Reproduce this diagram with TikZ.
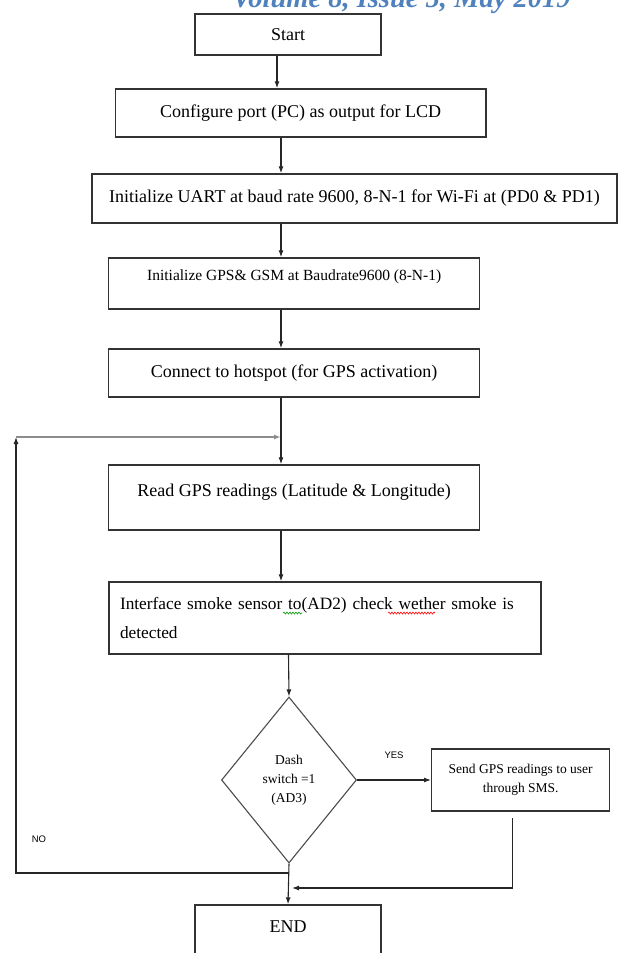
\documentclass[tikz,border=0pt]{standalone}
\usepackage{fontspec}
\setmainfont{Liberation Serif}
\newfontfamily\sansf{Liberation Sans}
\usetikzlibrary{shapes.geometric,arrows.meta,decorations.pathmorphing}
\definecolor{volblue}{HTML}{4F81BD}

\begin{document}
\begin{tikzpicture}[>={Latex[length=7pt,width=5pt]}, x=1pt, y=-1pt,
  blk/.style={draw=black!80, line width=1.4pt, inner sep=0pt, font=\fontsize{18}{22}\selectfont},
  dec/.style={diamond, draw=black!70, line width=1.1pt, inner sep=0pt, align=center, font=\fontsize{13.5}{19}\selectfont},
  flow/.style={->, line width=1.1pt, draw=black!85},
  lbl/.style={font=\sansf\fontsize{9.5}{11}\selectfont},
  squig/.style={line width=0.6pt, decorate, decoration={snake, amplitude=1pt, segment length=3pt}}]
\useasboundingbox (0,0) rectangle (618,953);

\node[anchor=base, text=volblue, font=\bfseries\itshape\fontsize{28.5}{30}\selectfont] (vol) at (401.5,8) {Volume 8, Issue 5, May 2019};

\node[blk, minimum width=186pt, minimum height=41pt] (start) at (288,34.5) {Start};
\node[blk, minimum width=370.5pt, minimum height=48pt] (config) at (300.7,113) {Configure port (PC) as output for LCD};
\node[blk, minimum width=525pt, minimum height=49pt] (uart) at (354.5,198.5) {Initialize UART at baud rate 9600, 8-N-1 for Wi-Fi at (PD0 \& PD1)};
\node[blk, minimum width=371pt, minimum height=51pt, font=\fontsize{15.5}{19}\selectfont, text depth=17.7pt] (gsm) at (294.2,283.5) {Initialize GPS\& GSM at Baudrate9600 (8-N-1)};
\node[blk, minimum width=371pt, minimum height=48pt] (hotspot) at (294.2,373) {Connect to hotspot (for GPS activation)};
\node[blk, minimum width=371pt, minimum height=65pt, text depth=15.4pt] (read) at (294.2,497.5) {Read GPS readings (Latitude \& Longitude)};
\node[blk, minimum width=432pt, minimum height=72pt, text width=410pt, align=left, font=\fontsize{17.3}{29}\selectfont] (smoke) at (325,618) {Interface smoke sensor to(AD2) check wether smoke is\\detected};
\node[dec, minimum width=135pt, minimum height=166pt] (dash) at (289,780) {Dash\\switch =1\\(AD3)};
\node[blk, minimum width=178pt, minimum height=62pt, align=center, font=\fontsize{13.5}{19}\selectfont] (sms) at (520.7,780) {Send GPS readings to user\\through SMS.};
\node[blk, minimum width=186pt, minimum height=60pt, text depth=16.5pt] (finish) at (288,935) {END};

\draw[squig, green!60!black] (283,613) -- (302,613);
\draw[squig, red] (388,613) -- (435,613);

\coordinate (c1) at (277,0);
\coordinate (c2) at (281,0);
\coordinate (c3) at (288.5,0);
\coordinate (nj) at (288.5,873);
\coordinate (nc) at (16,873);
\coordinate (lc) at (16,437);
\coordinate (mj) at (281,437);
\coordinate (r1) at (512.4,818);
\coordinate (r2) at (512.4,888);
\coordinate (r3) at (292,888);

\draw[flow] (start.south -| c1) -- (config.north -| c1);
\draw[flow] (config.south -| c2) -- (uart.north -| c2);
\draw[flow] (uart.south -| c2) -- (gsm.north -| c2);
\draw[flow] (gsm.south -| c2) -- (hotspot.north -| c2);
\draw[flow] (hotspot.south -| c2) -- (read.north -| c2);
\draw[flow] (read.south -| c2) -- (smoke.north -| c2);
\draw[flow] (smoke.south -| c3) -- (dash.north);
\draw[flow] (dash.east) -- node[lbl, midway, yshift=25pt]{YES} (sms.west);
\draw[flow] (dash.south) -- (finish.north);
\draw[flow] (nj) -- (nc) -- (lc);
\draw[->, line width=2.2pt, draw=black!45] (lc) -- (mj);
\node[lbl] (no) at (39,839) {NO};
\draw[flow] (r1) -- (r2) -- (r3);

\end{tikzpicture}
\end{document}
